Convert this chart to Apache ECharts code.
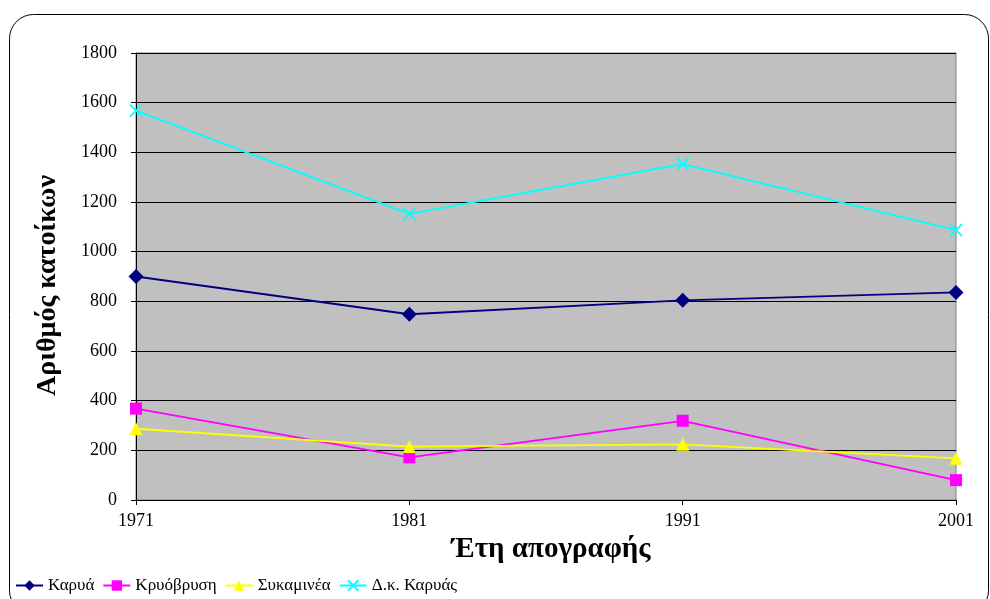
<!DOCTYPE html>
<html>
<head>
<meta charset="utf-8">
<script src="https://cdn.jsdelivr.net/npm/echarts@6/dist/echarts.min.js"></script>
<style>
html,body{margin:0;padding:0;background:#fff;}
#chart{width:990px;height:599px;}
</style>
</head>
<body>
<div id="chart"></div>
<script>
var years = ['1971', '1981', '1991', '2001'];
var karya = [900, 748, 804, 836];
var kryovrysi = [368, 172, 319, 80];
var sykaminea = [287, 215, 224, 168];
var dkKaryas = [1568, 1152, 1353, 1087];
var yTicks = {min: 0, max: 1800, step: 200};

var serif = '"Liberation Serif", "DejaVu Serif", serif';
var cross = 'path://M0,0L10,10M10,0L0,10';

function line(name, data, color, symbol, size) {
	return {
		name: name,
		type: 'line',
		data: data,
		symbol: symbol,
		symbolSize: size,
		lineStyle: {color: color, width: 1.8},
		itemStyle: {color: color, borderColor: color, borderWidth: symbol == cross ? 1.8 : 0},
		emphasis: {disabled: true},
		animation: false
	};
}

var myChart = echarts.init(document.getElementById('chart'));
myChart.setOption({
	animation: false,
	graphic: [{
		type: 'rect',
		shape: {x: 9.5, y: 14.5, width: 979, height: 600, r: 24},
		style: {fill: 'none', stroke: '#000', lineWidth: 1},
		z: -10
	}],
	grid: {left: 136, right: 34, top: 53, bottom: 99, show: true, backgroundColor: '#c0c0c0', borderColor: '#808080', borderWidth: 1},
	legend: {
		left: 10, top: 572,
		itemWidth: 27, itemHeight: 13, itemGap: 8,
		textStyle: {fontFamily: serif, fontSize: 17, color: '#000'},
		data: ['Καρυά', 'Κρυόβρυση', 'Συκαμινέα', 'Δ.κ. Καρυάς']
	},
	xAxis: {
		type: 'category',
		data: years,
		boundaryGap: false,
		name: 'Έτη απογραφής',
		nameLocation: 'middle',
		nameGap: 28,
		nameTextStyle: {fontFamily: serif, fontSize: 29, fontWeight: 'bold', color: '#000', padding: [0, 0, 0, 10]},
		axisLine: {lineStyle: {color: '#000', width: 1}},
		axisTick: {show: true, alignWithLabel: true, length: 5, lineStyle: {color: '#000'}},
		axisLabel: {fontFamily: serif, fontSize: 18, color: '#000', margin: 12},
		splitLine: {show: false}
	},
	yAxis: {
		type: 'value',
		min: yTicks.min, max: yTicks.max, interval: yTicks.step,
		name: 'Αριθμός κατοίκων',
		nameLocation: 'middle',
		nameGap: 74,
		nameTextStyle: {fontFamily: serif, fontSize: 28, fontWeight: 'bold', color: '#000', padding: [0, 18, 0, 0]},
		axisLine: {show: true, lineStyle: {color: '#000', width: 1}},
		axisTick: {show: true, length: 5, lineStyle: {color: '#000'}},
		axisLabel: {fontFamily: serif, fontSize: 18, color: '#000', margin: 19, formatter: function(v) { return String(v); }},
		splitLine: {show: true, lineStyle: {color: '#000', width: 1}}
	},
	series: [
		line('Καρυά', karya, '#000080', 'diamond', 15),
		line('Κρυόβρυση', kryovrysi, '#ff00ff', 'rect', 12),
		line('Συκαμινέα', sykaminea, '#ffff00', 'triangle', 13),
		line('Δ.κ. Καρυάς', dkKaryas, '#00ffff', cross, 12)
	]
});
</script>
</body>
</html>
